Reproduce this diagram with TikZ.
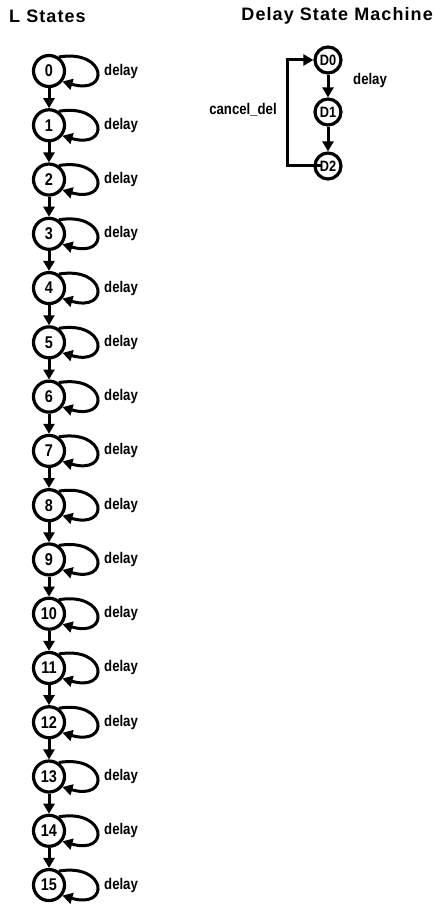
\documentclass[tikz,border=0pt]{standalone}
\usepackage{fontspec}
\setmainfont{Liberation Sans}
\newfontfamily\narrowfont[FakeStretch=0.85]{Liberation Sans}
\usetikzlibrary{arrows.meta}
\begin{document}
\begin{tikzpicture}[x=1pt,y=1pt,
  lstate/.style={circle,draw,line width=3.2pt,minimum size=31pt,inner sep=0pt,font=\narrowfont\fontsize{17}{17}\bfseries\selectfont},
  dstate/.style={circle,draw,line width=3.2pt,minimum size=26pt,inner sep=0pt,font=\narrowfont\fontsize{15}{15}\bfseries\selectfont},
  lbl/.style={font=\narrowfont\fontsize{15.5}{15.5}\bfseries\selectfont,inner sep=0pt},
  ttl/.style={font=\fontsize{18}{18}\bfseries\addfontfeatures{LetterSpace=6}\selectfont,inner sep=0pt},
  conn/.style={line width=3pt,-{Triangle[length=10pt,width=11pt]}}]
\useasboundingbox (0,0) rectangle (435,-909);
\node[ttl,anchor=west] (t1) at (9,-16) {L States};
\node[ttl,anchor=east] (t2) at (433,-16) {Delay State Machine};
\foreach \i in {0,...,15}{
  \node[lstate] (s\i) at (49,{-71-54.27*\i}) {\i};
  \draw[conn] (s\i.55) .. controls +(48,8) and +(48,-14) .. (s\i.-38);
  \node[lbl,anchor=west] (l\i) at (104,{-71-54.27*\i}) {delay};
}
\foreach \i [evaluate=\i as \j using int(\i+1)] in {0,...,14}{
  \draw[conn] (s\i.south) -- (s\j.north);
}
\node[dstate] (d0) at (328,-60) {D0};
\node[dstate] (d1) at (328,-112) {D1};
\node[dstate] (d2) at (328,-166) {D2};
\draw[conn] (d0.south) -- (d1.north);
\draw[conn] (d1.south) -- (d2.north);
\coordinate (fb) at (287,-166);
\draw[conn] ([xshift=-6pt]d2.center) -- (fb) |- (d0.west);
\node[lbl] (cd) at (243,-110) {cancel\_del};
\node[lbl,anchor=west] (dl) at (353,-80) {delay};
\end{tikzpicture}
\end{document}
